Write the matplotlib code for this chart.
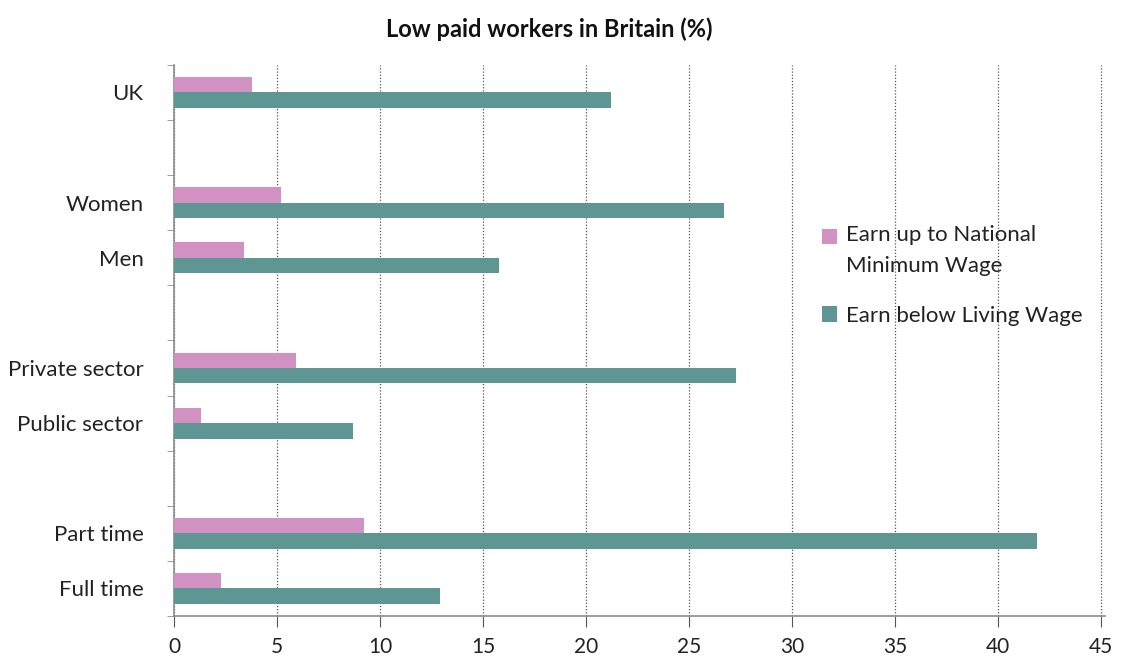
import matplotlib.pyplot as plt
import numpy as np

plt.rcParams['font.family'] = ['Lato', 'DejaVu Sans']

# rows from top to bottom; empty strings are spacer rows between groups
categories = ['UK', '', 'Women', 'Men', '', 'Private sector', 'Public sector', '', 'Part time', 'Full time']
min_wage = [3.8, np.nan, 5.2, 3.4, np.nan, 5.9, 1.3, np.nan, 9.2, 2.3]
living_wage = [21.2, np.nan, 26.7, 15.8, np.nan, 27.3, 8.7, np.nan, 41.9, 12.9]
series_labels = ['Earn up to National\nMinimum Wage', 'Earn below Living Wage']
x_ticks = [0, 5, 10, 15, 20, 25, 30, 35, 40, 45]

PINK = '#D291C3'
TEAL = '#5E9693'
AXIS_GREY = '#8C8C8C'

fig = plt.figure(figsize=(11.25, 6.56), dpi=100)
ax = fig.add_axes([0.1547, 0.061, 0.8276, 0.840])

y = np.arange(len(categories))
h = 0.28
ax.barh(y - h / 2, min_wage, height=h, color=PINK, label=series_labels[0], zorder=3)
ax.barh(y + h / 2, living_wage, height=h, color=TEAL, label=series_labels[1], zorder=3)

ax.set_ylim(len(categories) - 0.5, -0.5)
ax.set_xlim(0, 45.2)
ax.set_xticks(x_ticks)
ax.set_xticklabels([str(t) for t in x_ticks], fontsize=15, color='#222222')

# labels sit at row centres, tick marks at row boundaries
ax.set_yticks(y)
ax.set_yticklabels(categories, fontsize=16, color='#222222')
ax.set_yticks(np.arange(len(categories) + 1) - 0.5, minor=True)
ax.tick_params(axis='y', which='major', length=0, pad=22)
ax.tick_params(axis='y', which='minor', length=5, color=AXIS_GREY, direction='out')
ax.tick_params(axis='x', length=8, color='#555555', pad=7, direction='out')
for t in ax.xaxis.get_ticklines():
    t.set_linestyle((0, (1, 1)))

ax.xaxis.grid(True, linestyle=(0, (1, 1.5)), color='#555555', linewidth=0.9, zorder=0)
ax.set_axisbelow(True)

for side in ['top', 'right']:
    ax.spines[side].set_visible(False)
for side in ['left', 'bottom']:
    ax.spines[side].set_color(AXIS_GREY)
    ax.spines[side].set_linewidth(1.2)

leg = ax.legend(loc='upper left', bbox_to_anchor=(0.674, 0.745), frameon=False,
                fontsize=16, handlelength=0.7, handleheight=0.7, handletextpad=0.4,
                labelspacing=1.35, labelcolor='#222222')
for txt in leg.get_texts():
    txt.set_linespacing(1.65)
# put the swatch of the two-line entry next to its first line
first = leg.legend_handles[0]
first.set_y(first.get_y() + 10.5)

fig.text(0.488, 0.955, 'Low paid workers in Britain (%)', ha='center', va='center',
         fontsize=17, fontweight='bold', color='#111111')

fig.savefig('out.png', dpi=100, facecolor='white')
